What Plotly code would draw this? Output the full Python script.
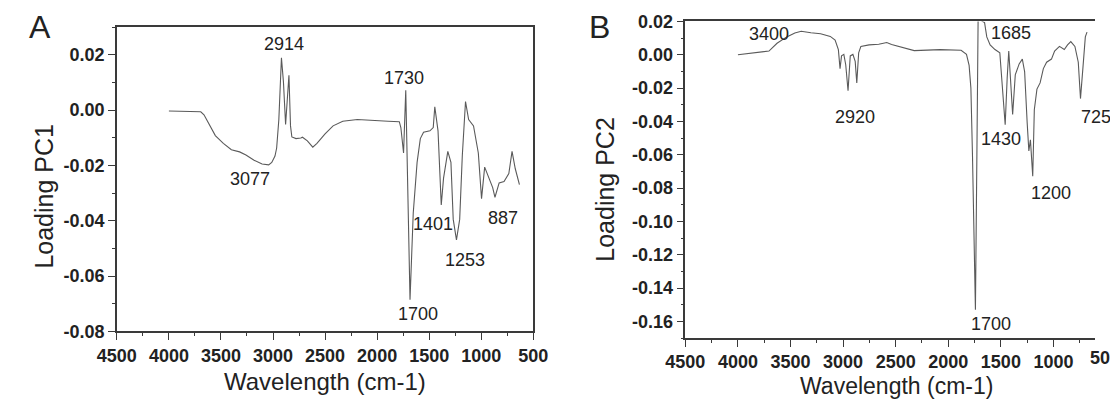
import plotly.graph_objects as go

# ---------------- data ----------------
a_wavenumber = [4000, 3694, 3663, 3600, 3554, 3477, 3400, 3321, 3260, 3182, 3105, 3042, 3012,
                2981, 2965, 2944, 2919, 2900, 2879, 2847, 2832, 2819, 2779, 2733, 2717, 2670,
                2618, 2578, 2500, 2423, 2330, 2190, 2050, 1895, 1787, 1772, 1746, 1725, 1684,
                1653, 1616, 1585, 1554, 1493, 1461, 1446, 1415, 1384, 1362, 1321, 1291, 1269,
                1238, 1207, 1182, 1151, 1121, 1074, 1028, 997, 967, 936, 890, 868, 828, 781,
                735, 704, 673, 633]
a_loading = [-0.0003, -0.0006, -0.0017, -0.0063, -0.0092, -0.0120, -0.0143, -0.0151, -0.0162,
             -0.0181, -0.0195, -0.0198, -0.0189, -0.0166, -0.0137, -0.0034, 0.0189, 0.0103,
             -0.0052, 0.0126, -0.0057, -0.0097, -0.0103, -0.0101, -0.0098, -0.0111, -0.0134,
             -0.0120, -0.0086, -0.0057, -0.0040, -0.0034, -0.0038, -0.0040, -0.0042, -0.0063,
             -0.0155, 0.0072, -0.0685, -0.0372, -0.0189, -0.0103, -0.0080, -0.0075, -0.0063,
             0.0012, -0.0075, -0.0343, -0.0246, -0.0149, -0.0189, -0.0395, -0.0469, -0.0395,
             -0.0166, 0.0031, -0.0034, -0.0057, -0.0155, -0.0320, -0.0206, -0.0235, -0.0280,
             -0.0315, -0.0263, -0.0258, -0.0229, -0.0149, -0.0212, -0.0269]

b_wavenumber = [4000, 3736, 3705, 3628, 3536, 3459, 3398, 3306, 3214, 3122, 3076, 3045, 3029,
                3015, 2993, 2975, 2953, 2932, 2907, 2885, 2870, 2852, 2831, 2753, 2661, 2585,
                2539, 2324, 2078, 1878, 1827, 1802, 1785, 1770, 1755, 1742, 1728, 1716, 1695,
                1680, 1655, 1634, 1602, 1556, 1510, 1480, 1459, 1440, 1425, 1409, 1388, 1363,
                1326, 1296, 1274, 1250, 1234, 1219, 1197, 1182, 1157, 1127, 1096, 1065, 1019,
                989, 943, 897, 866, 835, 796, 764, 743, 718, 697, 681]
b_loading = [0.0000, 0.0016, 0.0022, 0.0069, 0.0107, 0.0130, 0.0141, 0.0132, 0.0126, 0.0110,
             0.0088, 0.0031, -0.0083, -0.0007, 0.0002, -0.0060, -0.0216, -0.0007, 0.0002,
             -0.0040, -0.0169, 0.0012, 0.0050, 0.0059, 0.0063, 0.0073, 0.0062, 0.0025, 0.0031,
             0.0027, 0.0002, -0.0064, -0.0200, -0.0600, -0.1200, -0.1530, -0.0600, 0.0240,
             0.0215, 0.0202, 0.0193, 0.0107, 0.0059, 0.0031, 0.0012, -0.0235, -0.0420, -0.0140,
             0.0022, -0.0140, -0.0359, -0.0121, -0.0055, -0.0026, -0.0102, -0.0406, -0.0577,
             -0.0510, -0.0729, -0.0330, -0.0206, -0.0169, -0.0083, -0.0045, -0.0026, 0.0022,
             0.0050, 0.0031, 0.0059, 0.0079, 0.0050, -0.0045, -0.0263, -0.0064, 0.0107, 0.0136]

x_tick_values = [4500, 4000, 3500, 3000, 2500, 2000, 1500, 1000, 500]
x_tick_labels = ["4500", "4000", "3500", "3000", "2500", "2000", "1500", "1000", "500"]
a_y_tick_values = [0.02, 0.00, -0.02, -0.04, -0.06, -0.08]
a_y_tick_labels = ["0.02", "0.00", "-0.02", "-0.04", "-0.06", "-0.08"]
b_y_tick_values = [0.02, 0.00, -0.02, -0.04, -0.06, -0.08, -0.10, -0.12, -0.14, -0.16]
b_y_tick_labels = ["0.02", "0.00", "-0.02", "-0.04", "-0.06", "-0.08", "-0.10", "-0.12",
                   "-0.14", "-0.16"]

a_peak_labels = ["2914", "1730", "3077", "1401", "887", "1253", "1700"]
b_peak_labels = ["3400", "2920", "1685", "1430", "1200", "1700"]

# ---------------- figure ----------------
W, H = 1110, 408
FONT = "Liberation Sans, Arial, Helvetica, sans-serif"
LINE_COL = "#5a5a5a"
AXIS_COL = "#3a3a3a"
TEXT_COL = "#222222"


def px(x, y):
    return x / W, 1 - y / H


fig = go.Figure()
fig.add_trace(go.Scatter(x=a_wavenumber, y=a_loading, mode="lines",
                         line=dict(color=LINE_COL, width=1.1), xaxis="x", yaxis="y",
                         showlegend=False, hoverinfo="skip"))
fig.add_trace(go.Scatter(x=b_wavenumber, y=b_loading, mode="lines",
                         line=dict(color=LINE_COL, width=1.1), xaxis="x2", yaxis="y2",
                         showlegend=False, hoverinfo="skip"))

tickfont = dict(family=FONT, size=18, color=TEXT_COL, weight="bold")
common = dict(showgrid=False, zeroline=False, showline=True, linecolor=AXIS_COL,
              linewidth=1.5, ticks="outside", ticklen=7, tickwidth=1.3,
              tickcolor=AXIS_COL, tickfont=tickfont, tickmode="array")

ax_a, _ = px(100, 0)
ax_a2, _ = px(530, 0)
_, ay_a_bot = px(0, 338)
_, ay_a_top = px(0, 18)
ax_b, _ = px(687, 0)
_, ay_b_bot = px(0, 345)
_, ay_b_top = px(0, 12)

minor_x = dict(ticks="outside", ticklen=3, tickwidth=1.1, tickcolor=AXIS_COL, dtick=250)
minor_y = dict(ticks="outside", ticklen=3, tickwidth=1.1, tickcolor=AXIS_COL, dtick=0.01)

fig.update_layout(
    width=W, height=H, margin=dict(l=0, r=0, t=0, b=0),
    paper_bgcolor="white", plot_bgcolor="white",
    xaxis=dict(domain=[ax_a, ax_a2], range=[4500, 500], anchor="y", mirror=True,
               tickvals=x_tick_values, ticktext=x_tick_labels, minor=minor_x, **common),
    yaxis=dict(domain=[ay_a_bot, ay_a_top], range=[-0.08, 0.03], anchor="x", mirror=True,
               tickvals=a_y_tick_values, ticktext=a_y_tick_labels, minor=minor_y, **common),
    xaxis2=dict(domain=[ax_b, 1.0], range=[4500, 605], anchor="y2", mirror=True,
                tickvals=x_tick_values[:-1], ticktext=x_tick_labels[:-1], minor=minor_x,
                **common),
    yaxis2=dict(domain=[ay_b_bot, ay_b_top], range=[-0.17, 0.02], anchor="x2",
                tickvals=b_y_tick_values, ticktext=b_y_tick_labels, minor=minor_y, **common),
)

annots = []


def add_text(text, x, y, size, xanchor="center", angle=0, weight="normal"):
    fx, fy = px(x, y)
    annots.append(dict(text=text, x=fx, y=fy, xref="paper", yref="paper", showarrow=False,
                       xanchor=xanchor, yanchor="middle", textangle=angle, borderpad=0,
                       font=dict(family=FONT, size=size, color=TEXT_COL, weight=weight)))


# panel letters
add_text("A", 21, 18, 32)
add_text("B", 598, 18, 32)
# axis titles
add_text("Wavelength (cm-1)", 315, 391, 24)
add_text("Wavelength (cm-1)", 905, 395, 23)
add_text("Loading PC1", 25, 196, 25, angle=-90)
add_text("Loading PC2", 604, 188, 25, angle=-90)

# peak labels, panel A
a_label_pos = [(273, 36), (397, 72), (238, 178), (426, 225), (499, 219), (460, 263), (411, 320)]
for t, (x, y) in zip(a_peak_labels, a_label_pos):
    add_text(t, x, y, 18)
# peak labels, panel B
b_label_pos = [(773, 25), (862, 112), (1023, 24), (1013, 136), (1065, 192), (1003, 330)]
for t, (x, y) in zip(b_peak_labels, b_label_pos):
    add_text(t, x, y, 18)
# labels partly cut off by the right edge in the original
add_text("725", 1095, 112, 18, xanchor="left")
add_text("500", 1104, 366, 18, xanchor="left", weight="bold")

fig.update_layout(annotations=annots)
fig.write_html("out.html")
